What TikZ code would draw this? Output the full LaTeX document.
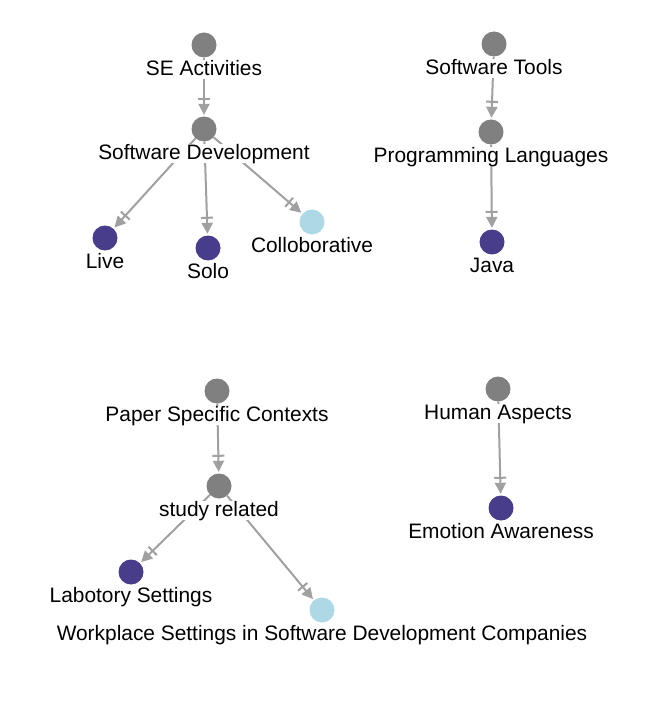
\documentclass[tikz,border=0pt]{standalone}
\usepackage{fontspec}
\setmainfont{Liberation Sans}
\usetikzlibrary{positioning, arrows.meta}
\definecolor{catgray}{HTML}{808080}
\definecolor{leafblue}{HTML}{483D8B}
\definecolor{openblue}{HTML}{ADD8E6}
\definecolor{edgegray}{HTML}{A0A0A0}
\tikzset{
    node distance=2.5pt, % gap between a bubble and its text
    bubble/.style={ % plain filled circle
        circle, minimum size=25pt, inner sep=0pt, draw=none
    },
    topic/.style={bubble, fill=catgray},
    leaf/.style={bubble, fill=leafblue},
    open leaf/.style={bubble, fill=openblue},
    lbl/.style={ % text under a bubble, hides the edges behind it
        fill=white, inner sep=0pt,
        text height=15pt, text depth=4pt,
        font=\fontsize{20.9}{24}\selectfont
    },
    every edge/.style={ % arrows between bubbles
        draw=edgegray,
        line width=2pt,
        -{Bar[width=12pt,sep=4pt]Triangle[length=11pt,width=11pt]},
        shorten >=1.5pt
    }
}
\begin{document}
\begin{tikzpicture}[x=1pt, y=-1pt]
    \useasboundingbox (0,0) rectangle (661,703);
    % bubbles
    \node[topic]     (se)     at (204,45)  {};
    \node[topic]     (sd)     at (204,129) {};
    \node[leaf]      (live)   at (105,238) {};
    \node[leaf]      (solo)   at (208,248) {};
    \node[open leaf] (collab) at (312,222) {};
    \node[topic]     (tools)  at (494,44)  {};
    \node[topic]     (prog)   at (491,132) {};
    \node[leaf]      (java)   at (492,242) {};
    \node[topic]     (paper)  at (217,391) {};
    \node[topic]     (study)  at (219,486) {};
    \node[leaf]      (lab)    at (131,572) {};
    \node[open leaf] (work)   at (322,610) {};
    \node[topic]     (human)  at (498,389) {};
    \node[leaf]      (emo)    at (501,508) {};
    % edges
    \draw   (se) edge (sd)
            (sd) edge (live)
            (sd) edge (solo)
            (sd) edge (collab)
            (tools) edge (prog)
            (prog) edge (java)
            (paper) edge (study)
            (study) edge (lab)
            (study) edge (work)
            (human) edge (emo)
    ;
    % texts
    \node[lbl, below=of se]     (seL)     {SE Activities};
    \node[lbl, below=of sd]     (sdL)     {Software Development};
    \node[lbl, below=of live]   (liveL)   {Live};
    \node[lbl, below=of solo]   (soloL)   {Solo};
    \node[lbl, below=of collab] (collabL) {Colloborative};
    \node[lbl, below=of tools]  (toolsL)  {Software Tools};
    \node[lbl, below=of prog]   (progL)   {Programming Languages};
    \node[lbl, below=of java]   (javaL)   {Java};
    \node[lbl, below=of paper]  (paperL)  {Paper Specific Contexts};
    \node[lbl, below=of study]  (studyL)  {study related};
    \node[lbl, below=of lab]    (labL)    {Labotory Settings};
    \node[lbl, below=of work]   (workL)   {Workplace Settings in Software Development Companies};
    \node[lbl, below=of human]  (humanL)  {Human Aspects};
    \node[lbl, below=of emo]    (emoL)    {Emotion Awareness};
\end{tikzpicture}
\end{document}
